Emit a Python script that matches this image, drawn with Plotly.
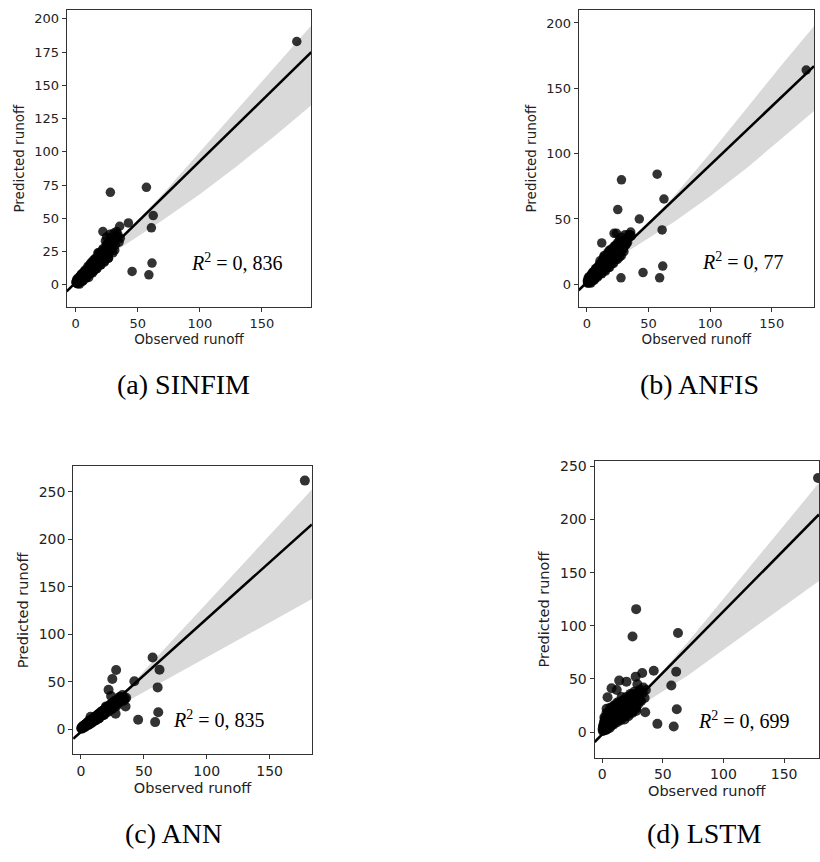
import plotly.graph_objects as go

# ---- data ----
CAPTIONS = ["(a) SINFIM", "(b) ANFIS", "(c) ANN", "(d) LSTM"]
R2_VALUES = ["0,836", "0,77", "0,835", "0,699"]

OBSERVED = [
    178, 28, 57, 62.5, 61, 61.5, 59, 45.5, 42.5, 35.5,
    35, 27.6, 25, 12, 7.7, 4.4, 3.6, 14, 22, 24,
    31, 33, 29, 20, 36, 0.3, 0.5, 0.7, 0.9, 1.1,
    1.3, 1.5, 1.7, 1.9, 2.1, 2.4, 2.7, 3.0, 3.3, 3.6,
    3.9, 4.2, 4.5, 4.9, 5.3, 5.7, 6.1, 6.5, 6.9, 7.3,
    7.8, 8.3, 8.8, 9.3, 9.8, 10.3, 10.9, 11.5, 12.1, 12.7,
    13.3, 13.9, 14.5, 15.2, 15.9, 16.6, 17.3, 18.0, 18.7, 19.5,
    20.3, 21.1, 21.9, 22.8, 23.7, 24.6, 25.5, 26.5, 27.5, 28.5,
    29.5, 30.5, 32.0, 33.5, 2.0, 3.5, 5.0, 6.5, 8.0, 9.5,
    11.0, 12.5, 14.0, 16.0, 18.0,
    1.0, 2.5, 4.0, 5.5, 7.0, 8.5, 10.0, 11.5, 13.0, 14.5,
    16.0, 17.5, 19.0, 20.5, 22.0, 23.5, 25.0, 26.5, 28.0, 30.0,
    1.8, 3.2, 4.7, 6.2, 7.6, 9.1, 10.6, 12.0, 13.6, 15.0,
    16.8, 18.4, 20.0, 21.6, 23.2, 24.8, 26.4, 28.0, 31.5, 34.0,
]

PRED_SINFIM = [
    183, 69.5, 73.3, 52, 42.8, 16.3, 7.5, 10, 46.5, 44,
    32, 38, 36, 12, 9, 5, 3, 14, 40, 33,
    39, 40, 30, 22, 35, 2.0, 1.5, 3.0, 1.0, 2.5,
    0.8, 3.5, 2.0, 4.0, 1.5, 4.5, 2.0, 5.0, 3.0, 6.0,
    3.5, 6.5, 4.0, 7.0, 4.5, 8.0, 5.0, 9.0, 6.0, 8.5,
    6.5, 10.0, 7.5, 11.5, 8.0, 12.5, 9.0, 13.5, 10.0, 15.0,
    11.0, 16.0, 12.5, 17.5, 13.0, 19.0, 14.0, 20.0, 16.0, 22.0,
    17.5, 24.0, 19.0, 25.5, 20.5, 27.0, 22.0, 29.0, 24.5, 28.0,
    27.0, 33.0, 30.0, 36.0, 3.0, 6.0, 8.0, 4.5, 10.0, 7.0,
    14.0, 9.5, 18.0, 12.0, 24.0,
    4.0, 1.0, 7.0, 2.5, 10.0, 5.0, 14.0, 8.0, 17.0, 10.0,
    20.0, 12.5, 24.0, 15.0, 27.0, 18.0, 30.0, 20.0, 33.0, 24.0,
    5.0, 0.5, 8.0, 3.0, 11.0, 6.0, 5.5, 16.0, 9.0, 19.0,
    12.0, 23.0, 15.0, 26.0, 17.0, 30.0, 20.0, 35.0, 26.0, 38.0,
]

PRED_ANFIS = [
    164, 80, 84.3, 65.3, 41.6, 14, 5, 9, 50, 40,
    38, 5, 57.2, 31.7, 8, 6, 4, 22, 39, 39,
    38, 32, 28, 22, 37, 2.5, 1.0, 3.5, 1.5, 3.0,
    1.0, 4.0, 2.5, 5.0, 2.0, 5.5, 2.5, 6.0, 3.5, 7.0,
    4.0, 7.5, 4.5, 8.5, 5.0, 9.5, 5.5, 10.5, 6.5, 10.0,
    7.0, 12.0, 8.0, 13.5, 9.0, 15.0, 10.0, 16.0, 11.0, 18.0,
    12.0, 19.0, 13.5, 20.5, 14.5, 22.0, 15.0, 24.0, 17.0, 25.0,
    18.5, 27.0, 19.5, 29.0, 21.0, 30.0, 23.0, 32.0, 25.0, 30.0,
    27.0, 34.0, 31.0, 36.0, 4.5, 7.5, 9.5, 5.0, 12.0, 8.0,
    16.0, 10.5, 20.0, 14.0, 26.0,
    5.0, 1.5, 8.0, 3.0, 12.0, 5.5, 15.0, 8.5, 19.0, 11.0,
    22.0, 13.0, 26.0, 16.0, 29.0, 19.0, 32.0, 21.0, 36.0, 25.0,
    6.0, 1.0, 9.0, 3.5, 12.5, 6.5, 18.0, 8.0, 21.0, 10.0,
    24.0, 13.0, 27.0, 16.0, 30.0, 19.0, 34.0, 22.0, 30.0, 38.0,
]

PRED_ANN = [
    262, 62.4, 75.6, 62.7, 44, 17.9, 7.4, 9.9, 50.4, 23.8,
    32, 16.2, 52.9, 12, 13, 5, 3, 16, 41.4, 35,
    34, 36, 30, 24, 33, 1.0, 1.5, 0.5, 2.0, 1.0,
    2.5, 1.5, 3.0, 2.0, 3.5, 2.5, 4.0, 3.0, 4.5, 3.5,
    5.0, 4.0, 6.0, 4.5, 6.5, 5.0, 7.5, 6.0, 8.0, 6.5,
    9.0, 7.5, 10.0, 8.5, 11.0, 9.5, 12.5, 10.5, 13.5, 11.5,
    15.0, 12.5, 16.5, 14.0, 17.5, 15.0, 19.0, 16.5, 20.5, 17.5,
    22.0, 19.0, 24.0, 20.5, 25.5, 22.0, 27.0, 24.0, 29.0, 26.0,
    31.0, 28.0, 33.0, 31.0, 3.0, 5.0, 7.0, 9.0, 6.0, 11.0,
    9.0, 14.0, 11.0, 18.0, 15.0,
    2.0, 3.5, 5.0, 6.0, 8.0, 9.5, 11.0, 12.0, 14.5, 15.5,
    17.5, 18.5, 21.0, 22.0, 24.0, 25.0, 27.5, 28.0, 30.5, 32.0,
    3.0, 2.0, 6.0, 4.5, 9.5, 7.0, 12.5, 9.5, 15.5, 12.0,
    19.0, 15.0, 23.0, 18.0, 26.0, 21.0, 29.5, 24.0, 34.0, 30.0,
]

PRED_LSTM = [
    239, 115.7, 43.8, 93.2, 56.9, 21.6, 5.3, 7.8, 57.8, 18.8,
    32.2, 52.2, 90, 39.7, 41.3, 32.8, 21.9, 48.5, 30, 35,
    40, 55.7, 45, 47.5, 39.7, 3.0, 1.0, 5.0, 2.0, 7.0,
    1.5, 9.0, 3.0, 11.0, 4.0, 13.0, 2.5, 8.0, 5.5, 15.0,
    3.5, 10.0, 7.0, 17.0, 5.0, 12.0, 9.0, 19.0, 6.5, 14.0,
    10.0, 21.0, 8.0, 16.0, 12.0, 24.0, 10.0, 18.0, 14.0, 26.0,
    12.0, 20.0, 16.0, 28.0, 14.0, 22.0, 18.0, 30.0, 16.0, 24.0,
    20.0, 27.0, 22.0, 31.0, 19.0, 28.0, 24.0, 33.0, 22.0, 30.0,
    26.0, 35.0, 29.0, 37.0, 6.0, 18.0, 11.0, 23.0, 13.0, 25.0,
    17.0, 28.0, 20.0, 33.0, 26.0,
    6.0, 12.0, 3.0, 16.0, 6.0, 20.0, 9.0, 24.0, 11.0, 27.0,
    13.0, 29.0, 15.0, 31.0, 17.0, 34.0, 20.0, 36.0, 23.0, 38.0,
    14.0, 2.0, 18.0, 4.0, 22.0, 7.0, 25.0, 9.0, 28.0, 11.0,
    30.0, 12.0, 33.0, 15.0, 36.0, 18.0, 38.0, 20.0, 30.0, 42.0,
]

# regression lines (slope, intercept) and confidence bands
FIT_SLOPE = [0.914, 0.898, 1.191, 1.157]
FIT_INTERCEPT = [1.6, 1.5, -2.8, -2.1]

BAND_X_SINFIM = [-7.2, 20, 40, 70, 100, 130, 160, 189.7]
BAND_HI_SINFIM = [-4.7, 20.1, 38.5, 68.1, 100.0, 131.9, 163.8, 195.0]
BAND_LO_SINFIM = [-5.3, 17.9, 30.2, 48.6, 68.0, 89.4, 111.8, 135.0]

BAND_X_ANFIS = [-6.8, 20, 40, 70, 100, 130, 160, 184.3]
BAND_HI_ANFIS = [-4.3, 19.7, 37.7, 66.9, 100.3, 135.2, 170.2, 197.5]
BAND_LO_ANFIS = [-4.9, 17.5, 29.4, 47.4, 67.3, 89.2, 113.2, 132.7]

BAND_X_ANN = [-6.1, 20, 40, 70, 100, 130, 160, 183.6]
BAND_HI_ANN = [-9.8, 21.2, 46.8, 89.6, 132.8, 175.5, 218.8, 252.6]
BAND_LO_ANN = [-10.4, 17.0, 31.3, 53.1, 75.3, 97.0, 119.8, 137.1]

BAND_X_LSTM = [-6.3, 20, 40, 70, 100, 130, 160, 178.8]
BAND_HI_LSTM = [-9.1, 21.2, 44.5, 83.9, 125.6, 167.3, 208.5, 234.5]
BAND_LO_LSTM = [-9.7, 18.0, 31.2, 52.9, 77.6, 102.3, 127.0, 142.3]

X_TICKS = [0, 50, 100, 150]
Y_TICKS = [[0, 25, 50, 75, 100, 125, 150, 175, 200],
           [0, 50, 100, 150, 200],
           [0, 50, 100, 150, 200, 250],
           [0, 50, 100, 150, 200, 250]]

PREDS = [PRED_SINFIM, PRED_ANFIS, PRED_ANN, PRED_LSTM]
BANDS = [(BAND_X_SINFIM, BAND_LO_SINFIM, BAND_HI_SINFIM),
         (BAND_X_ANFIS, BAND_LO_ANFIS, BAND_HI_ANFIS),
         (BAND_X_ANN, BAND_LO_ANN, BAND_HI_ANN),
         (BAND_X_LSTM, BAND_LO_LSTM, BAND_HI_LSTM)]

# ---- layout: pixel geometry of the 820x862 page ----
W, H = 820, 862
panels = [
    dict(px=(66.7, 311.7), py=(7.3, 305), xr=[-7.2, 189.7], yr=[-16.7, 206.5],
         tick=13, title=13.5, msize=9.5, r2=(91.3, 17), cap=(184, 383)),
    dict(px=(579.3, 815), py=(7.3, 305), xr=[-6.8, 184.3], yr=[-17.3, 209.7],
         tick=13, title=13.5, msize=9.5, r2=(91.9, 17.8), cap=(700, 383)),
    dict(px=(73.3, 312.3), py=(465, 754), xr=[-6.1, 183.6], yr=[-26.6, 277],
         tick=14, title=14.5, msize=10, r2=(71.4, 10.9), cap=(174, 833)),
    dict(px=(595.3, 820), py=(460, 757.3), xr=[-6.3, 178.8], yr=[-24, 254.7],
         tick=14, title=14.5, msize=10, r2=(77.2, 11.6), cap=(705, 833)),
]


def fx(v):
    return min(1.0, max(0.0, v / W))


def fy(v):
    return min(1.0, max(0.0, 1 - v / H))


fig = go.Figure()
annotations = []
layout_axes = {}

for i, p in enumerate(panels):
    n = "" if i == 0 else str(i + 1)
    xa, ya = "x" + n, "y" + n
    bx, blo, bhi = BANDS[i]

    fig.add_trace(go.Scatter(
        x=bx + bx[::-1], y=bhi + blo[::-1], xaxis=xa, yaxis=ya,
        fill="toself", fillcolor="#d9d9d9", line=dict(width=0),
        mode="lines", hoverinfo="skip", showlegend=False))

    fig.add_trace(go.Scatter(
        x=OBSERVED, y=PREDS[i], xaxis=xa, yaxis=ya, mode="markers",
        marker=dict(size=p["msize"], color="#000000", opacity=0.8,
                    line=dict(width=0)),
        showlegend=False))

    lx = p["xr"]
    ly = [FIT_INTERCEPT[i] + FIT_SLOPE[i] * v for v in lx]
    fig.add_trace(go.Scatter(
        x=lx, y=ly, xaxis=xa, yaxis=ya, mode="lines",
        line=dict(color="#000000", width=2.6), showlegend=False))

    common = dict(showline=True, linecolor="#333333", linewidth=1, mirror=True,
                  ticks="outside", ticklen=4, tickwidth=1, tickcolor="#333333",
                  showgrid=False, zeroline=False,
                  tickfont=dict(family="DejaVu Sans", size=p["tick"], color="#222222"))
    layout_axes["xaxis" + n] = dict(
        common, domain=[fx(p["px"][0]), fx(p["px"][1])], range=p["xr"],
        tickvals=X_TICKS, anchor=ya,
        title=dict(text="Observed runoff", standoff=4,
                   font=dict(family="DejaVu Sans", size=p["title"], color="#222222")))
    layout_axes["yaxis" + n] = dict(
        common, domain=[fy(p["py"][1]), fy(p["py"][0])], range=p["yr"],
        tickvals=Y_TICKS[i], anchor=xa,
        title=dict(text="Predicted runoff", standoff=6,
                   font=dict(family="DejaVu Sans", size=p["title"], color="#222222")))

    annotations.append(dict(
        x=p["r2"][0], y=p["r2"][1], xref=xa, yref=ya, xanchor="left", yanchor="middle",
        text="<i>R</i><sup>2</sup>\u00a0=\u00a0" + R2_VALUES[i].replace(",", ",\u00a0"),
        showarrow=False,
        font=dict(family="Liberation Serif", size=20, color="#000000")))
    annotations.append(dict(
        x=fx(p["cap"][0]), y=fy(p["cap"][1]), xref="paper", yref="paper",
        xanchor="center", yanchor="middle", text=CAPTIONS[i], showarrow=False,
        font=dict(family="Liberation Serif", size=28, color="#000000")))

fig.update_layout(
    width=W, height=H, autosize=False,
    margin=dict(l=0, r=0, t=0, b=0),
    paper_bgcolor="white", plot_bgcolor="white",
    showlegend=False, annotations=annotations,
    **layout_axes)

# drop the default body margin so the figure sits at the page origin
fig.write_html("out.html",
               config={"displayModeBar": False},
               post_script="document.body.style.margin='0';"
                           "document.body.style.overflow='hidden';")
